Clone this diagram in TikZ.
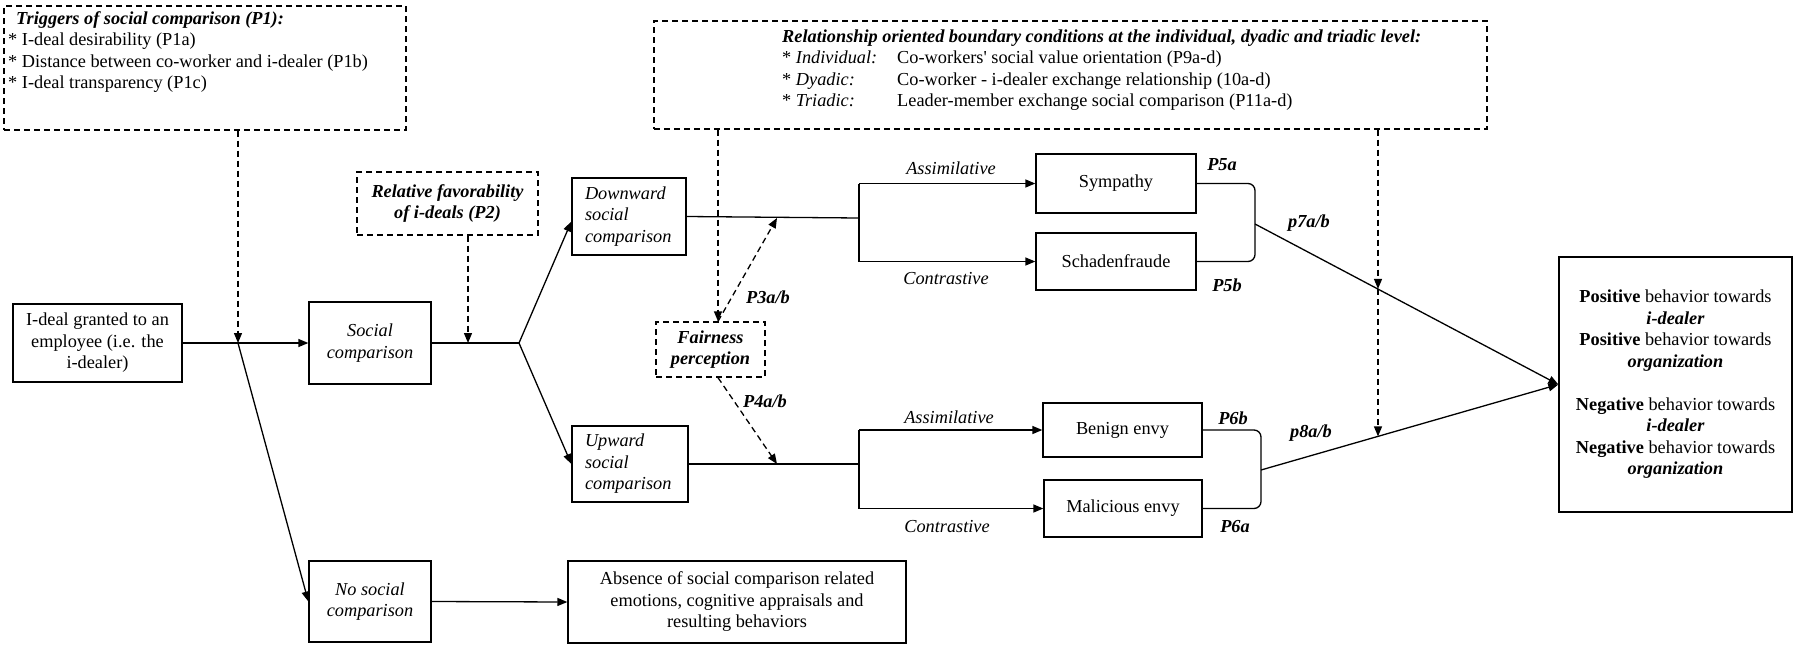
\documentclass[tikz,border=0pt]{standalone}
\usepackage{fontspec}
\setmainfont{Liberation Serif}
\usetikzlibrary{arrows.meta,calc}
\newcommand\myfs{\fontsize{18.3}{21.5}\selectfont}
\begin{document}
\begin{tikzpicture}[x=1pt,y=-1pt,
  box/.style={draw, line width=1.3pt, inner sep=0pt, align=center, font=\myfs},
  dbox/.style={box, dash pattern=on 6pt off 4pt},
  conn/.style={line width=1.3pt},
  arr/.style={conn, -{Triangle[length=10pt,width=8pt]}},
  darr/.style={arr, dash pattern=on 6pt off 4pt},
  lab/.style={font=\myfs\itshape, inner sep=0pt},
  plab/.style={font=\myfs\bfseries\itshape, inner sep=0pt},
  txt/.style={font=\myfs, inner sep=0pt, align=left, anchor=west}]
\useasboundingbox (0,0) rectangle (1794,646);

% boxes
\node[dbox, minimum width=402pt, minimum height=124pt] (trig) at (205,68) {};
\node[txt] (trigtxt) at (8,52) {\hspace*{8pt}\textbf{\textit{Triggers of social comparison (P1):}}\\
* I-deal desirability (P1a)\\
* Distance between co-worker and i-dealer (P1b)\\
* I-deal transparency (P1c)};

\node[dbox, minimum width=833pt, minimum height=108pt] (rel) at (1070.5,75) {};
\node[txt] (reltxt) at (782,70) {\textbf{\textit{Relationship oriented boundary conditions at the individual, dyadic and triadic level:}}\\
\makebox[115pt][l]{* \textit{Individual:}}Co-workers\textquotesingle{} social value orientation (P9a-d)\\
\makebox[115pt][l]{* \textit{Dyadic:}}Co-worker - i-dealer exchange relationship (10a-d)\\
\makebox[115pt][l]{* \textit{Triadic:}}Leader-member exchange social comparison (P11a-d)};

\node[box, minimum width=169pt, minimum height=78pt] (ideal) at (97.5,343) {I-deal granted to an\\employee (i.e. the\\i-dealer)};
\node[box, minimum width=122pt, minimum height=82pt, font=\myfs\itshape] (social) at (370,343) {Social\\comparison};
\node[dbox, minimum width=181pt, minimum height=63pt, font=\myfs\bfseries\itshape] (relfav) at (447.5,203.5) {Relative favorability\\of i-deals (P2)};
\node[box, text width=88pt, inner xsep=13pt, minimum height=77pt, align=left, font=\myfs\itshape] (down) at (629,216.5) {Downward\\social\\comparison};
\node[box, text width=90pt, inner xsep=13pt, minimum height=76pt, align=left, font=\myfs\itshape] (up) at (630,464) {Upward\\social\\comparison};
\node[dbox, minimum width=109pt, minimum height=55pt, font=\myfs\bfseries\itshape] (fair) at (710.5,349.5) {Fairness\\perception};
\node[box, minimum width=160pt, minimum height=59pt] (sym) at (1116,183.5) {Sympathy};
\node[box, minimum width=160pt, minimum height=57pt] (sch) at (1116,261.5) {Schadenfraude};
\node[box, minimum width=159pt, minimum height=54pt] (ben) at (1122.5,430) {Benign envy};
\node[box, minimum width=158pt, minimum height=57pt] (mal) at (1123,508.5) {Malicious envy};
\node[box, minimum width=233pt, minimum height=255pt] (out) at (1675.5,384.5) {\textbf{Positive} behavior towards\\\textbf{\textit{i-dealer}}\\\textbf{Positive} behavior towards\\\textbf{\textit{organization}}\\[21.5pt]\textbf{Negative} behavior towards\\\textbf{\textit{i-dealer}}\\\textbf{Negative} behavior towards\\\textbf{\textit{organization}}};
\node[box, minimum width=122pt, minimum height=81pt, font=\myfs\itshape] (nosoc) at (370,601.5) {No social\\comparison};
\node[box, minimum width=338pt, minimum height=82pt] (abs) at (737,602) {Absence of social comparison related\\emotions, cognitive appraisals and\\resulting behaviors};

% junctions
\coordinate (j1) at (238,343);
\coordinate (j2) at (519,343);
\coordinate (k2) at (468,343);
\coordinate (j3) at (859,218);
\coordinate (j4) at (859,464);
\coordinate (fx) at (718,0);
\coordinate (p3) at (777,218);
\coordinate (p4) at (777,464);
\coordinate (b1) at (1255,224);
\coordinate (b2) at (1261,470);
\coordinate (d7) at (1378,288.9);
\coordinate (d8) at (1378,436.4);

% connectors
\draw[arr] (ideal) -- (social);
\draw[darr] (j1 |- trig.south) -- (j1);
\draw[arr] (j1) -- (nosoc.west);
\draw[arr] (nosoc.east) -- (abs.west);
\draw[conn] (social.east) -- (j2);
\draw[darr] (k2 |- relfav.south) -- (k2);
\draw[arr] (j2) -- ($(down.west)+(0,5)$);
\draw[arr] (j2) -- (up.west);

\draw[conn] (down.east) -- (j3);
\draw[conn] (j3 |- sym.west) -- (j3 |- sch.west);
\draw[arr] (j3 |- sym.west) -- (sym.west);
\draw[arr] (j3 |- sch.west) -- (sch.west);
\draw[conn] (up.east) -- (j4);
\draw[conn] (j4 |- ben.west) -- (j4 |- mal.west);
\draw[arr] (j4 |- ben.west) -- (ben.west);
\draw[arr] (j4 |- mal.west) -- (mal.west);

\draw[darr] (fx |- rel.south) -- (fx |- fair.north);
\draw[darr] (fx |- fair.north) -- (p3);
\draw[darr] (fx |- fair.south) -- (p4);

\draw[conn, rounded corners=7pt] (sym.east) -| (b1) |- (sch.east);
\draw[conn, rounded corners=7pt] (ben.east) -| (b2) |- (mal.east);
\draw[arr] (b1) -- (out.west);
\draw[arr] (b2) -- (out.west);
\draw[darr] (d7 |- rel.south) -- (d7);
\draw[darr] (d7) -- (d8);

% labels
\node[lab] (as1) at (951,168) {Assimilative};
\node[lab] (co1) at (946,279) {Contrastive};
\node[lab] (as2) at (949,417) {Assimilative};
\node[lab] (co2) at (947,527) {Contrastive};
\node[plab] (l3) at (768,297) {P3a/b};
\node[plab] (l4) at (765,401) {P4a/b};
\node[plab] (l5a) at (1222,165) {P5a};
\node[plab] (l5b) at (1227,285) {P5b};
\node[plab] (l6b) at (1233,418) {P6b};
\node[plab] (l6a) at (1235,527) {P6a};
\node[plab] (l7) at (1309,223) {p7a/b};
\node[plab] (l8) at (1311,433) {p8a/b};
\end{tikzpicture}
\end{document}
